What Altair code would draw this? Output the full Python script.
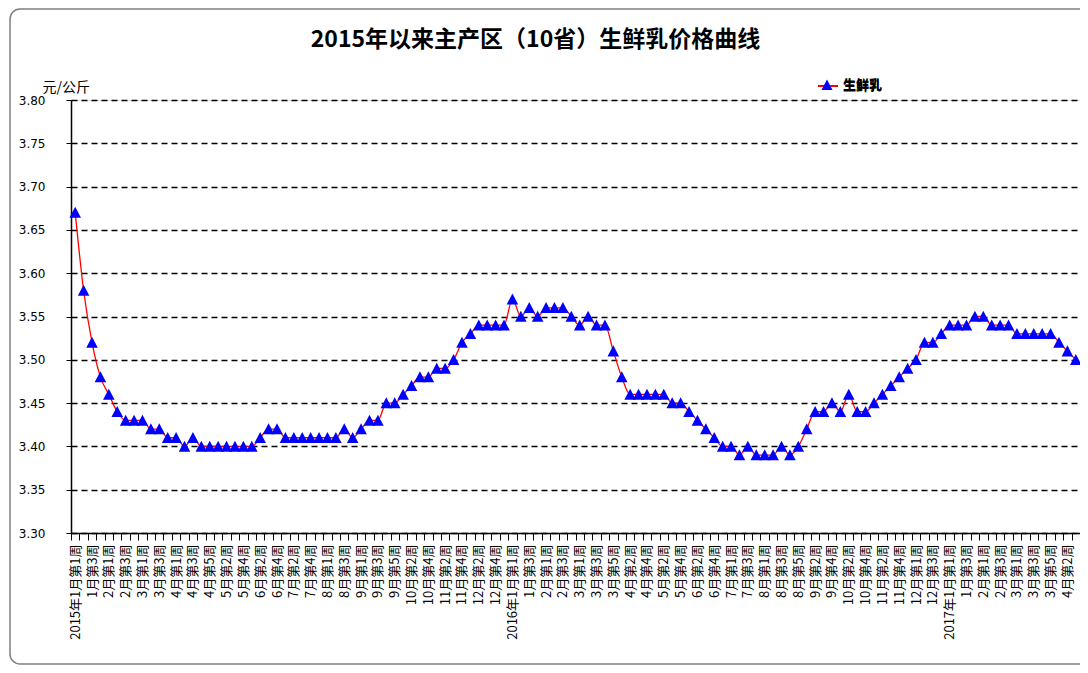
import altair as alt
import pandas as pd

# weekly price of fresh milk (yuan/kg), 2015 week 1 .. 2017 April week 3
price = [
    3.67, 3.58, 3.52, 3.48, 3.46, 3.44, 3.43, 3.43, 3.43, 3.42,
    3.42, 3.41, 3.41, 3.40, 3.41, 3.40, 3.40, 3.40, 3.40, 3.40,
    3.40, 3.40, 3.41, 3.42, 3.42, 3.41, 3.41, 3.41, 3.41, 3.41,
    3.41, 3.41, 3.42, 3.41, 3.42, 3.43, 3.43, 3.45, 3.45, 3.46,
    3.47, 3.48, 3.48, 3.49, 3.49, 3.50, 3.52, 3.53, 3.54, 3.54,
    3.54, 3.54, 3.57, 3.55, 3.56, 3.55, 3.56, 3.56, 3.56, 3.55,
    3.54, 3.55, 3.54, 3.54, 3.51, 3.48, 3.46, 3.46, 3.46, 3.46,
    3.46, 3.45, 3.45, 3.44, 3.43, 3.42, 3.41, 3.40, 3.40, 3.39,
    3.40, 3.39, 3.39, 3.39, 3.40, 3.39, 3.40, 3.42, 3.44, 3.44,
    3.45, 3.44, 3.46, 3.44, 3.44, 3.45, 3.46, 3.47, 3.48, 3.49,
    3.50, 3.52, 3.52, 3.53, 3.54, 3.54, 3.54, 3.55, 3.55, 3.54,
    3.54, 3.54, 3.53, 3.53, 3.53, 3.53, 3.53, 3.52, 3.51, 3.50,
]

years = [2015, 2016, 2017]
weeks_2015 = [4, 4, 4, 5, 4, 4, 5, 4, 5, 4, 4, 5]
weeks_2016 = [4, 4, 5, 4, 4, 5, 4, 5, 4, 4, 5, 4]
weeks_2017 = [4, 4, 5, 3]
weeks_per_month = [weeks_2015, weeks_2016, weeks_2017]

series_name = "生鲜乳"
title_text = "2015年以来主产区（10省）生鲜乳价格曲线"
y_unit = "元/公斤"
y_ticks = [3.30, 3.35, 3.40, 3.45, 3.50, 3.55, 3.60, 3.65, 3.70, 3.75, 3.80]

labels = []
for y, months in zip(years, weeks_per_month):
    for m, n in enumerate(months, start=1):
        for w in range(1, n + 1):
            lab = f"{m}月第{w}周"
            if m == 1 and w == 1:
                lab = f"{y}年" + lab
            labels.append(lab)

shown = [lab if k % 2 == 0 else "" for k, lab in enumerate(labels)]
label_expr = "[" + ",".join(f"'{s}'" for s in shown) + "][datum.value]"

df = pd.DataFrame({
    "i": list(range(len(price))),
    "price": price,
    "s1": series_name,
    "s2": series_name,
})

tri = "M0,-0.55L0.55,0.5L-0.55,0.5Z"

W, H = 1009, 433
PL, PT = 63, 92

x_enc = alt.X(
    "i:O",
    scale=alt.Scale(type="band", paddingInner=0, paddingOuter=0),
    axis=alt.Axis(
        title=None,
        labelExpr=label_expr,
        labelAngle=270,
        labelFont="Noto Sans CJK SC",
        labelFontSize=13,
        labelColor="black",
        labelOverlap=False,
        labelPadding=4,
        tickBand="extent",
        tickSize=7,
        tickColor="black",
        domainColor="black",
        domainWidth=1.5,
        grid=False,
    ),
)
y_enc = alt.Y(
    "price:Q",
    scale=alt.Scale(domain=[3.30, 3.80], nice=False, zero=False),
    axis=alt.Axis(
        title=y_unit,
        titleAngle=0,
        titleX=-29,
        titleY=-9,
        titleAlign="left",
        titleBaseline="alphabetic",
        titleFont="Noto Sans CJK SC",
        titleFontSize=14,
        titleFontWeight="normal",
        titleColor="black",
        values=y_ticks,
        format=".2f",
        labelFont="DejaVu Sans",
        labelFontSize=12,
        labelColor="black",
        labelPadding=21,
        tickSize=5,
        tickColor="black",
        domainColor="black",
        domainWidth=1.5,
        grid=True,
        gridColor="black",
        gridDash=[6, 4],
        gridWidth=1.5,
    ),
)

line = alt.Chart(df).mark_line(strokeWidth=1.3, interpolate="monotone").encode(
    x=x_enc,
    y=y_enc,
    color=alt.Color(
        "s1:N",
        scale=alt.Scale(range=["#ff0000"]),
        legend=alt.Legend(
            title=None, orient="none", legendX=746, legendY=-25, padding=0,
            symbolType="stroke", symbolSize=400, symbolStrokeWidth=2,
            symbolStrokeColor="#ff0000",
            labelFont="Noto Sans CJK SC", labelFontSize=13,
            labelFontWeight="bold", labelColor="black", labelOffset=4,
        ),
    ),
)

points = alt.Chart(df).mark_point(filled=True, size=440, opacity=1, color="#0000ff").encode(
    x=x_enc,
    y=y_enc,
    shape=alt.Shape(
        "s2:N",
        scale=alt.Scale(range=[tri]),
        legend=alt.Legend(
            title=None, orient="none", legendX=746, legendY=-25, padding=0,
            symbolSize=400, symbolFillColor="#0000ff", symbolStrokeColor="#0000ff",
            symbolStrokeWidth=0,
            labelFont="Noto Sans CJK SC", labelFontSize=13,
            labelFontWeight="bold", labelColor="black", labelOffset=6,
        ),
    ),
)

frame = alt.Chart(pd.DataFrame({"k": [0]})).mark_rect(
    fillOpacity=0, stroke="#808080", strokeWidth=1.5, cornerRadius=10
).encode(
    x=alt.value(-61), x2=alt.value(1100), y=alt.value(-91), y2=alt.value(564)
)

chart = alt.layer(frame, line, points).properties(
    width=W,
    height=H,
    autosize=alt.AutoSizeParams(type="none"),
    padding={"left": PL, "top": PT, "right": 0, "bottom": 132},
    title=alt.TitleParams(
        text=title_text,
        font="Noto Sans CJK SC",
        fontSize=23,
        fontWeight="bold",
        color="black",
        anchor="middle",
        frame="group",
        dx=-40,
        dy=44,
        offset=0,
    ),
).configure_view(
    stroke="#aaaaaa", strokeDash=[3, 3], strokeWidth=1
).configure(background="white")

chart.save("out.html", embed_options={"renderer": "svg", "actions": False})
